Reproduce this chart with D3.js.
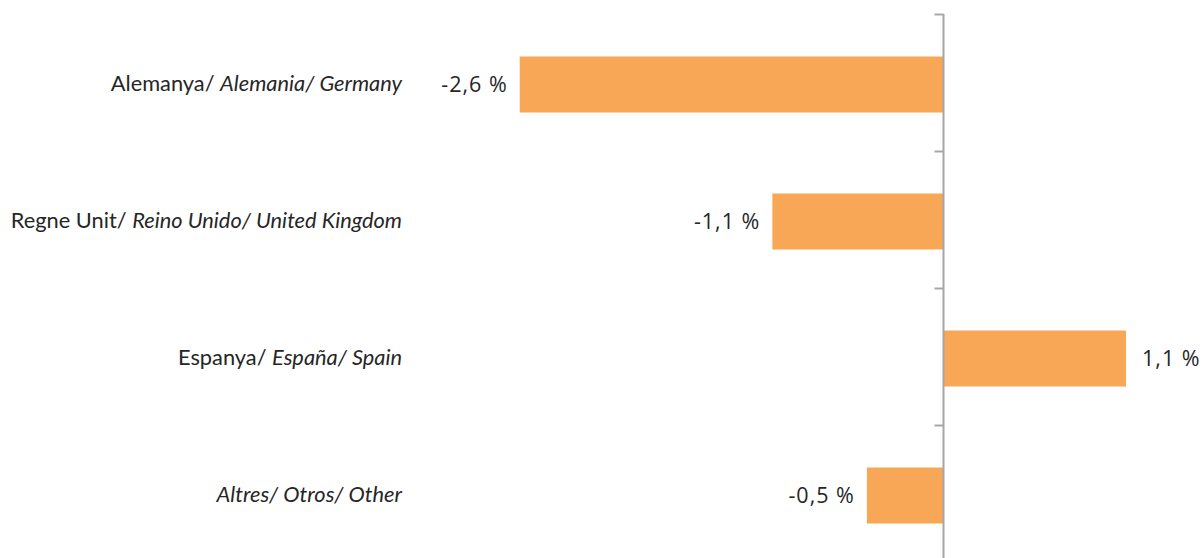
<!DOCTYPE html>
<html>
<head>
<meta charset=utf-8>
<title>Variation by country</title>
<style>
body{margin:0; background:#fff;}
#chart text{fill:#262626;}
.cat{font-family: Lato, sans-serif; font-size:21.8px;}
.val{font-family: "Open Sans", sans-serif; font-size:21.5px; letter-spacing:1px;}
</style>
</head>
<body>
<svg id=chart width=1202 height=558></svg>
<script src='https://cdn.jsdelivr.net/npm/d3@7/dist/d3.min.js'></script>
<script>
//data
var catCa = ['Alemanya', 'Regne Unit', 'Espanya', 'Altres'];
var catEs = ['Alemania', 'Reino Unido', 'España', 'Otros'];
var catEn = ['Germany', 'United Kingdom', 'Spain', 'Other'];
var values = [-2.6, -1.05, 1.12, -0.47];

var svg = d3.select('#chart');

//scales: axis sits at x=943.5, ~163px per point
var x = d3.scaleLinear().domain([-3, 1.5]).range([454.5, 1188]);
var y = d3.scaleBand().domain(catEn).range([14, 562]);
var barH = 56;

var fmt = d3.format('.1f');
function label(v){ return fmt(v).replace('\u2212', '-').replace('.', ',') + ' %'; }

//bars
svg.append('g').selectAll('rect')
    .data(values)
  .enter().append('rect')
    .attr('x', d => Math.min(x(d), x(0)))
    .attr('width', d => Math.abs(x(d) - x(0)))
    .attr('y', (d, i) => y(catEn[i]) + (y.bandwidth() - barH)/2 + 2)
    .attr('height', barH)
    .attr('fill', '#f7a756');

//axis line + ticks at band boundaries
svg.append('line')
    .attr('x1', x(0)).attr('x2', x(0))
    .attr('y1', 14).attr('y2', 558)
    .attr('stroke', '#a6a6a6').attr('stroke-width', 2);

svg.append('g').selectAll('line')
    .data(catEn)
  .enter().append('line')
    .attr('x1', x(0) - 9).attr('x2', x(0))
    .attr('y1', d => y(d) + 0.5).attr('y2', d => y(d) + 0.5)
    .attr('stroke', '#a6a6a6').attr('stroke-width', 2);

//value labels (trailing letter-spacing nudged back for end-anchored ones)
svg.append('g').selectAll('text')
    .data(values)
  .enter().append('text')
    .attr('class', 'val')
    .attr('x', d => d < 0 ? x(d) - 12 : x(d) + 16)
    .attr('y', (d, i) => y(catEn[i]) + y.bandwidth()/2 + 9.5)
    .attr('text-anchor', d => d < 0 ? 'end' : 'start')
    .text(label);

//category labels
var cats = svg.append('g').selectAll('text')
    .data(catEn)
  .enter().append('text')
    .attr('class', 'cat')
    .attr('x', 402)
    .attr('y', d => y(d) + y.bandwidth()/2 + 8.5)
    .attr('text-anchor', 'end');

cats.append('tspan')
    .attr('font-style', (d, i) => catCa[i] == 'Altres' ? 'italic' : 'normal')
    .text((d, i) => catCa[i] + '/ ');
cats.append('tspan')
    .attr('font-style', 'italic')
    .text((d, i) => catEs[i] + '/ ' + d);
</script>
</body>
</html>
